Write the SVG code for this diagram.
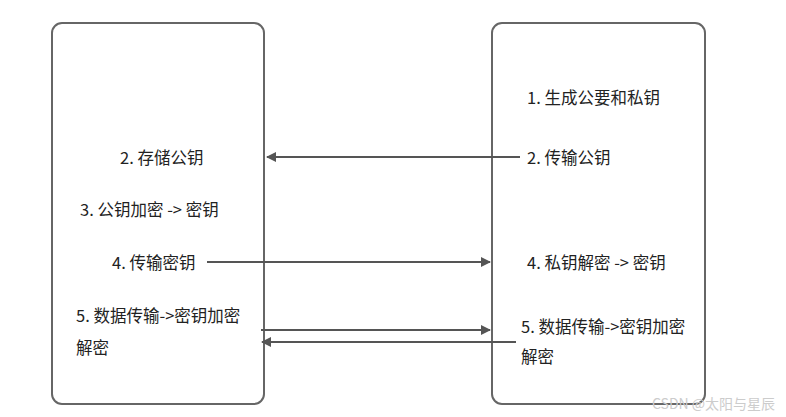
<svg xmlns="http://www.w3.org/2000/svg" width="786" height="417" viewBox="0 0 786 417">
<style>
.box{fill:#fff;stroke:#666;stroke-width:2}
text{font-family:"Noto Sans CJK SC","Liberation Sans",sans-serif;font-size:16.5px;fill:#222}
.c{stroke:#555;stroke-width:2;fill:none;marker-end:url(#a)}
</style>
<defs><marker id="a" markerWidth="10" markerHeight="10" refX="9" refY="5" orient="auto" markerUnits="userSpaceOnUse"><path d="M0,0 L10,5 L0,10 z" fill="#555"/></marker></defs>
<rect width="786" height="417" fill="#fff"/>
<g id="left"><rect class="box" x="52" y="23" width="212" height="381" rx="10"/>
<text x="120" y="164">2. 存储公钥</text>
<text x="80" y="216">3. 公钥加密 -&gt; 密钥</text>
<text x="112" y="269">4. 传输密钥</text>
<text x="76" y="322">5. 数据传输-&gt;密钥加密</text>
<text x="76" y="354">解密</text></g>
<g id="right"><rect class="box" x="492" y="23" width="213" height="381" rx="10"/>
<text x="527" y="104">1. 生成公要和私钥</text>
<text x="527" y="164">2. 传输公钥</text>
<text x="527" y="269">4. 私钥解密 -&gt; 密钥</text>
<text x="521" y="333">5. 数据传输-&gt;密钥加密</text>
<text x="521" y="363">解密</text></g>
<g id="connectors">
<line class="c" x1="520" y1="157" x2="267" y2="157"/>
<line class="c" x1="207" y1="262" x2="490" y2="262"/>
<line class="c" x1="261" y1="330" x2="490" y2="330"/>
<line class="c" x1="516" y1="342" x2="262" y2="342"/>
</g>
<text x="652" y="409" style="font-size:14px;fill:#ccc">CSDN @太阳与星辰</text>
</svg>
